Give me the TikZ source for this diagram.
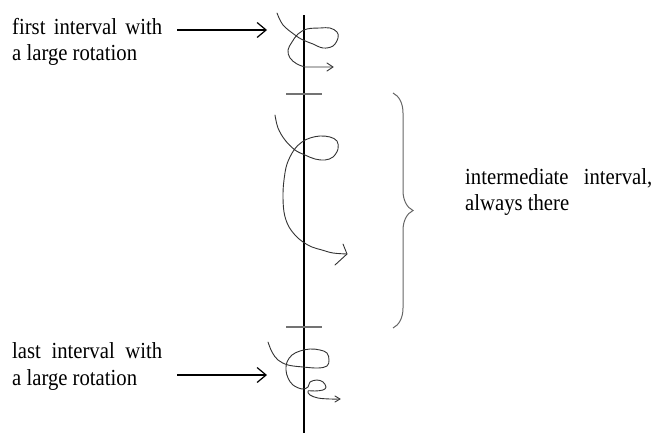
\documentclass[tikz,border=0pt]{standalone}
\usepackage{fontspec}
\setmainfont{Liberation Serif}[FakeStretch=0.9]
\usetikzlibrary{arrows.meta,decorations.pathreplacing}
\begin{document}
\begin{tikzpicture}[x=1pt,y=-1pt,
  lbl/.style={inner sep=0pt,anchor=base west,font=\fontsize{23}{26}\selectfont},
  pointer/.style={line width=1.2pt,-{Straight Barb[length=9pt,width=15pt,line width=1.2pt]}},
  curl/.style={line width=0.9pt,color=black!80,line cap=round,line join=round},
  tick/.style={line width=1.8pt,color=black!55},
  axis/.style={line width=1.3pt,color=black}]
\useasboundingbox (0,0) rectangle (654,434);
% axis
\coordinate (atop) at (304,15);
\coordinate (abot) at (304,433);
\draw[axis] (atop) -- (abot);
% ticks
\coordinate (k1a) at (286,94); \coordinate (k1b) at (322,94);
\coordinate (k2a) at (286,327); \coordinate (k2b) at (322,327);
\draw[tick] (k1a) -- (k1b);
\draw[tick] (k2a) -- (k2b);
% labels
\node[lbl] (t1) at (12,34) {\makebox[150pt][s]{first interval with}};
\node[lbl] (t2) at (12,60) {a large rotation};
\node[lbl] (b1) at (12,358) {\makebox[150pt][s]{last interval with}};
\node[lbl] (b2) at (12,385) {a large rotation};
\node[lbl] (m1) at (465,184) {\makebox[187pt][s]{intermediate interval,}};
\node[lbl] (m2) at (465,210) {always there};
% pointers
\coordinate (p1s) at (177,30); \coordinate (p1e) at (267,30);
\coordinate (p2s) at (177,375); \coordinate (p2e) at (267,375);
\draw[pointer] (p1s) -- (p1e);
\draw[pointer] (p2s) -- (p2e);
% brace
\coordinate (brt) at (393,93); \coordinate (brb) at (393,328);
\draw[line width=1pt,color=black!60,decorate,decoration={brace,amplitude=20pt,aspect=0.5}] (brt) -- (brb);
% top curl
\draw[curl] plot[smooth,tension=0.6] coordinates {(277,13) (283,25) (295,35) (303,40) (313,44) (323,48) (333,46) (338,38) (337,32) (330,28) (320,28) (307,29) (298,34) (292,42) (288,50) (290,58) (297,64) (305,67)} -- (333,67);
\draw[curl] (327,63) -- (333,67) -- (327,71);
% middle curl
\draw[curl] plot[smooth,tension=0.6] coordinates {(275,115) (278,128) (285,140) (295,150) (305,155) (315,159) (325,160) (333,157) (338,149) (337,141) (330,137) (320,136) (310,138) (302,142) (294,150) (287,164) (284,180) (283,195) (284,212) (288,225) (295,235) (303,242) (312,247) (322,250) (333,253) (347,254)};
\draw[curl] (343,244) -- (347,254) -- (335,265);
% bottom curl
\draw[curl] plot[smooth,tension=0.6] coordinates {(268,342) (272,352) (278,360) (288,365) (303,367) (318,368) (327,366) (329,360) (327,353) (320,350) (310,349) (300,351) (292,355) (287,362) (286,370) (288,378) (293,385) (302,389) (308,387) (310,382) (317,380) (323,382) (326,387) (323,390) (315,391) (308,391) (310,395) (318,398) (330,399) (340,399)};
\draw[curl] (335,396) -- (340,399) -- (335,402);
\end{tikzpicture}
\end{document}
